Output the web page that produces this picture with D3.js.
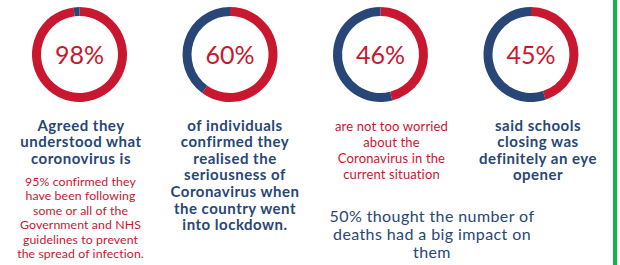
<!DOCTYPE html>
<html>
<head>
<meta charset="utf-8">
<script src="https://cdn.jsdelivr.net/npm/d3@7"></script>
<style>
  body { margin: 0; background: #fff; }
  svg { display: block; }
</style>
</head>
<body>
<svg id="chart"></svg>
<script>
// survey results
const labels = ["understood", "seriousness", "worried", "schools"];
const percents = [98, 60, 46, 45];
const headlines = [
  ["Agreed they", "understood what", "coronovirus is"],
  ["of individuals", "confirmed they", "realised the", "seriousness of", "Coronavirus when", "the country went", "into lockdown."],
  ["are not too worried", "about the", "Coronavirus in the", "current situation"],
  ["said schools", "closing was", "definitely an eye", "opener"]
];
const headlineBold = [true, true, false, true];
const subText1 = ["95% confirmed they", "have been following", "some or all of the", "Government and NHS", "guidelines to prevent", "the spread of infection."];
const subText3 = ["50% thought the number of", "deaths had a big impact on", "them"];

const width = 620, height = 265;
const red = "#c8172f", blue = "#284677", green = "#15b24b";

const svg = d3.select("#chart")
  .attr("width", width)
  .attr("height", height);

// donut positions
const xScale = d3.scalePoint()
  .domain(labels)
  .range([79.5, 531]);
const cy = 54.5;

const pie = d3.pie().sort(null).value(d => d);
const arc = d3.arc().innerRadius(38.5).outerRadius(47.5);

const donuts = svg.selectAll("g.donut")
  .data(labels)
  .join("g")
  .attr("class", "donut")
  .attr("transform", d => `translate(${xScale(d)},${cy})`);

donuts.selectAll("path")
  .data((d, i) => pie([percents[i], 100 - percents[i]]))
  .join("path")
  .attr("d", arc)
  .attr("fill", (d, i) => i === 0 ? red : blue);

donuts.append("text")
  .attr("text-anchor", "middle")
  .attr("y", 9)
  .attr("fill", red)
  .style("font-family", "Lato, sans-serif")
  .style("font-size", "25px")
  .text((d, i) => percents[i] + "%");

// headline text under each donut
const textShift = [1.5, 5, 11, 7];
const headG = svg.selectAll("text.head")
  .data(labels)
  .join("text")
  .attr("class", "head")
  .attr("text-anchor", "middle")
  .attr("fill", (d, i) => headlineBold[i] ? blue : red)
  .style("font-family", "Lato, sans-serif")
  .style("font-weight", (d, i) => headlineBold[i] ? "bold" : "normal")
  .style("font-size", (d, i) => headlineBold[i] ? "15px" : "13px")
  .style("letter-spacing", (d, i) => headlineBold[i] ? "0.5px" : "0.15px");

headG.selectAll("tspan")
  .data((d, i) => headlines[i].map(t => ({ t, i })))
  .join("tspan")
  .attr("x", d => xScale(labels[d.i]) + textShift[d.i])
  .attr("y", (d, j) => 130.5 + j * (headlineBold[d.i] ? 16.6 : 16.1))
  .text(d => d.t);

// secondary notes
svg.append("text")
  .attr("text-anchor", "middle")
  .attr("fill", red)
  .style("font-family", "Lato, sans-serif")
  .style("font-size", "12.3px")
  .style("letter-spacing", "0.1px")
  .selectAll("tspan")
  .data(subText1)
  .join("tspan")
  .attr("x", xScale(labels[0]) + 1)
  .attr("y", (d, j) => 185.5 + j * 14.5)
  .text(d => d);

svg.append("text")
  .attr("text-anchor", "middle")
  .attr("fill", blue)
  .style("font-family", "Lato, sans-serif")
  .style("font-size", "16px")
  .style("letter-spacing", "0.4px")
  .selectAll("tspan")
  .data(subText3)
  .join("tspan")
  .attr("x", 432)
  .attr("y", (d, j) => 221.5 + j * 18)
  .text(d => d);

// green divider on the right
svg.append("rect")
  .attr("x", 613)
  .attr("y", 0)
  .attr("width", 4)
  .attr("height", height)
  .attr("fill", green);
</script>
</body>
</html>
